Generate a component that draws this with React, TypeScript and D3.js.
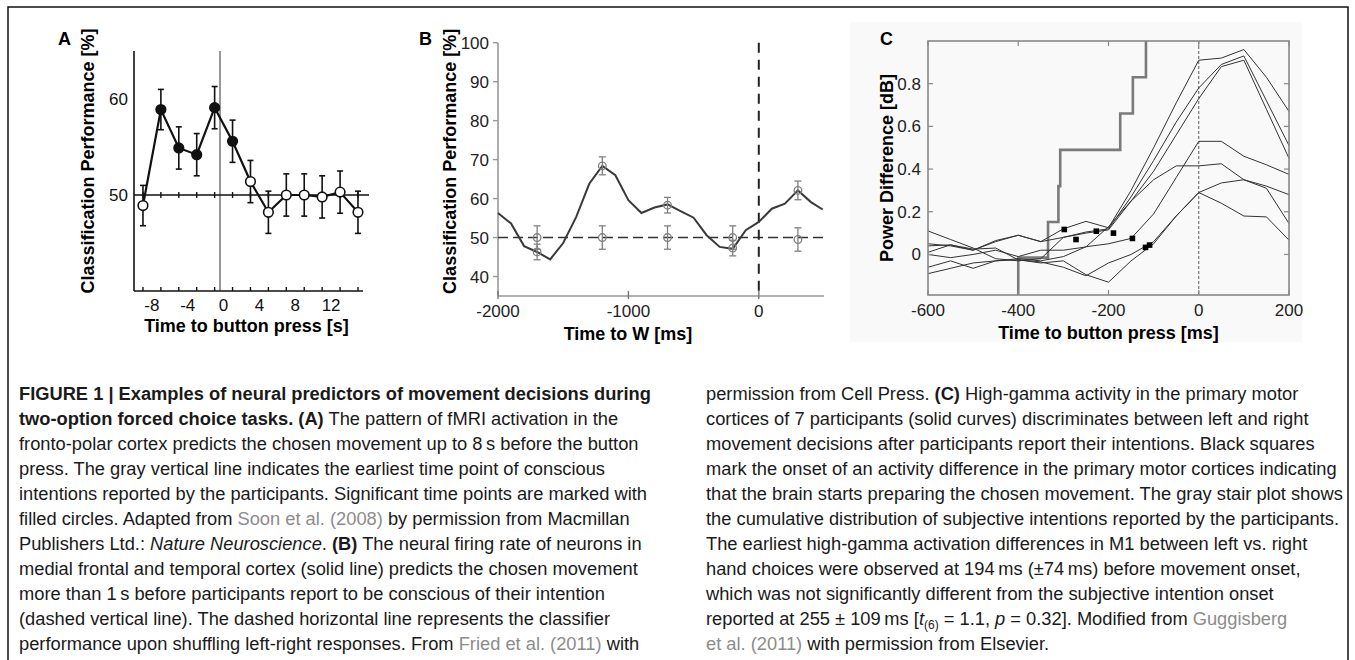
import React from "react";
import * as d3 from "d3";

const FONT = "'Liberation Sans', Arial, Helvetica, sans-serif";

// ---------------- Panel A (fMRI, Soon et al.) ----------------
const aTimes = [-9, -7, -5, -3, -1, 1, 3, 5, 7, 9, 11, 13, 15];
const aValues = [48.9, 58.9, 54.9, 54.2, 59.1, 55.6, 51.4, 48.2, 50.0, 50.0, 49.8, 50.3, 48.2];
const aErrors = [2.1, 2.1, 2.2, 2.2, 2.2, 2.2, 2.2, 2.2, 2.2, 2.2, 2.2, 2.2, 2.2];
const aFilled = [false, true, true, true, true, true, false, false, false, false, false, false, false];
const aXTickLabels = [-8, -4, 0, 4, 8, 12];
const aYTickLabels = [50, 60];
const aIntention = -0.4;
const aChance = 50;

// ---------------- Panel B (single neurons, Fried et al.) ----------------
const bTimes = [-2000, -1900, -1800, -1700, -1600, -1500, -1400, -1300, -1200, -1100, -1000, -900, -800, -700, -600, -500, -400, -300, -200, -100, 0, 100, 200, 300, 400, 490];
const bValues = [56.3, 53.6, 47.8, 46.3, 44.4, 48.6, 55.3, 63.8, 68.4, 66.0, 59.6, 56.3, 57.7, 58.5, 56.8, 55.1, 50.6, 47.6, 47.1, 51.9, 54.0, 57.4, 58.7, 62.1, 59.1, 57.2];
const bMarkerTimes = [-1700, -1200, -700, -200, 300];
const bMarkerValues = [46.3, 68.4, 58.3, 47.3, 62.1];
const bMarkerErrors = [2.0, 2.3, 2.0, 2.0, 2.4];
const bShuffleValues = [50, 50, 50, 50, 49.5];
const bShuffleErrors = [3, 3, 3, 3, 3];
const bYTicks = [40, 50, 60, 70, 80, 90, 100];
const bXTicks = [-2000, -1000, 0];
const bChance = 50;

// ---------------- Panel C (high-gamma, Guggisberg et al.) ----------------
const cTimes = [-600, -550, -500, -450, -400, -350, -300, -250, -200, -150, -100, -50, 0, 50, 100, 150, 200];
const cSubject1 = [0.05, 0.04, 0.02, 0.06, 0.09, 0.06, 0.12, 0.155, 0.125, 0.30, 0.50, 0.71, 0.91, 0.92, 0.96, 0.83, 0.67];
const cSubject2 = [0.11, 0.07, 0.03, -0.02, -0.03, -0.02, 0.08, 0.105, 0.12, 0.27, 0.44, 0.62, 0.78, 0.89, 0.93, 0.72, 0.51];
const cSubject3 = [0.01, 0.045, 0.02, 0.065, 0.09, 0.06, 0.08, 0.10, 0.115, 0.25, 0.39, 0.56, 0.73, 0.88, 0.91, 0.68, 0.45];
const cSubject4 = [-0.09, -0.065, -0.04, -0.03, -0.02, -0.03, -0.01, 0.036, 0.05, 0.075, 0.19, 0.36, 0.53, 0.53, 0.46, 0.42, 0.375];
const cSubject5 = [0.0, -0.015, 0.0, 0.02, -0.01, 0.02, 0.02, 0.035, 0.13, 0.25, 0.35, 0.415, 0.415, 0.425, 0.35, 0.32, 0.28];
const cSubject6 = [0.04, 0.045, 0.025, 0.03, -0.025, -0.035, -0.06, -0.1, -0.04, 0.0, 0.06, 0.18, 0.29, 0.335, 0.35, 0.31, 0.145];
const cSubject7 = [-0.06, -0.03, -0.065, -0.03, -0.025, -0.04, -0.03, -0.095, -0.13, -0.03, 0.05, 0.18, 0.29, 0.24, 0.18, 0.176, 0.067];
const cSubjects = [cSubject1, cSubject2, cSubject3, cSubject4, cSubject5, cSubject6, cSubject7];
const cOnsetTimes = [-298, -272, -227, -189, -147, -118, -109];
const cOnsetValues = [0.117, 0.07, 0.109, 0.10, 0.075, 0.033, 0.044];
const cStairTimes = [-400, -334, -311, -307, -174, -146, -117];
const cStairValues = [-0.015, 0.152, 0.32, 0.49, 0.66, 0.83, 1.0];
const cXTicks = [-600, -400, -200, 0, 200];
const cYTicks = [0, 0.2, 0.4, 0.6, 0.8];

// ---------------- Caption ----------------
type Seg = [string, string];
const captionLeft: Seg[][] = [
  [["FIGURE 1 | Examples of neural predictors of movement decisions during", "b"]],
  [["two-option forced choice tasks. (A)", "b"], [" The pattern of fMRI activation in the", ""]],
  [["fronto-polar cortex predicts the chosen movement up to 8\u2009s before the button", ""]],
  [["press. The gray vertical line indicates the earliest time point of conscious", ""]],
  [["intentions reported by the participants. Significant time points are marked with", ""]],
  [["filled circles. Adapted from ", ""], ["Soon et al. (2008)", "g"], [" by permission from Macmillan", ""]],
  [["Publishers Ltd.: ", ""], ["Nature Neuroscience", "i"], [". ", ""], ["(B)", "b"], [" The neural firing rate of neurons in", ""]],
  [["medial frontal and temporal cortex (solid line) predicts the chosen movement", ""]],
  [["more than 1\u2009s before participants report to be conscious of their intention", ""]],
  [["(dashed vertical line). The dashed horizontal line represents the classifier", ""]],
  [["performance upon shuffling left-right responses. From ", ""], ["Fried et al. (2011)", "g"], [" with", ""]],
];
const captionRight: Seg[][] = [
  [["permission from Cell Press. ", ""], ["(C)", "b"], [" High-gamma activity in the primary motor", ""]],
  [["cortices of 7 participants (solid curves) discriminates between left and right", ""]],
  [["movement decisions after participants report their intentions. Black squares", ""]],
  [["mark the onset of an activity difference in the primary motor cortices indicating", ""]],
  [["that the brain starts preparing the chosen movement. The gray stair plot shows", ""]],
  [["the cumulative distribution of subjective intentions reported by the participants.", ""]],
  [["The earliest high-gamma activation differences in M1 between left vs. right", ""]],
  [["hand choices were observed at 194\u2009ms (\u00b174\u2009ms) before movement onset,", ""]],
  [["which was not significantly different from the subjective intention onset", ""]],
  [["reported at 255 \u00b1 109\u2009ms [", ""], ["t", "i"], ["(6)", "sub"], [" = 1.1, ", "up"], ["p", "i"], [" = 0.32]. Modified from ", ""], ["Guggisberg", "g"]],
  [["et al. (2011)", "g"], [" with permission from Elsevier.", ""]],
];

function CaptionLine({ segs, x, y }: { segs: Seg[]; x: number; y: number }) {
  return (
    <text x={x} y={y} fontFamily={FONT} fontSize={18.3} fill="#1a1a1a">
      {segs.map(([t, s], i) => {
        const props: any = {};
        if (s === "b") props.fontWeight = "bold";
        if (s === "g") props.fill = "#8c8c8c";
        if (s === "i") props.fontStyle = "italic";
        if (s === "sub") { props.fontSize = 12; props.dy = 4; }
        if (s === "up") props.dy = -4;
        return <tspan key={i} {...props}>{t}</tspan>;
      })}
    </text>
  );
}

function PanelA() {
  const x = d3.scaleLinear().domain([-10, 15.56]).range([134, 363]);
  const y = d3.scaleLinear().domain([40, 65]).range([291, 51]);
  const pts = aTimes.map((t, i) => ({ t, v: aValues[i], e: aErrors[i], f: aFilled[i] }));
  const line = d3.line<any>().x((d) => x(d.t)).y((d) => y(d.v));
  const [x0, x1] = x.range();
  const [yb, yt] = y.range();
  return (
    <g fontFamily={FONT}>
      <text x={58} y={45} fontSize={18} fontWeight="bold">A</text>
      <text transform={`translate(94,${(yb + yt) / 2 - 10}) rotate(-90)`} textAnchor="middle" fontSize={18} fontWeight="bold">
        Classification Performance [%]
      </text>
      <line x1={x(aIntention)} x2={x(aIntention)} y1={yt} y2={yb} stroke="#999" strokeWidth={2} />
      <line x1={x0} x2={x0} y1={yt} y2={yb} stroke="#111" strokeWidth={1.6} />
      <line x1={x0} x2={x1} y1={yb} y2={yb} stroke="#111" strokeWidth={1.6} />
      <line x1={x0} x2={x1 + 6} y1={y(aChance)} y2={y(aChance)} stroke="#111" strokeWidth={1.6} />
      {aTimes.map((t) => (
        <g key={t}>
          <line x1={x(t)} x2={x(t)} y1={yb} y2={yb - 4} stroke="#111" strokeWidth={1.4} />
          <line x1={x(t)} x2={x(t)} y1={y(aChance) - 3} y2={y(aChance) + 3} stroke="#111" strokeWidth={1.4} />
        </g>
      ))}
      {aYTickLabels.map((v) => (
        <text key={v} x={x0 - 6} y={y(v) + 6} textAnchor="end" fontSize={17} fill="#111">{v}</text>
      ))}
      {aXTickLabels.map((t) => (
        <text key={t} x={x(t)} y={yb + 20} textAnchor="middle" fontSize={17} fill="#111">{t}</text>
      ))}
      <text x={(x0 + x1) / 2 - 2} y={yb + 41} textAnchor="middle" fontSize={18} fontWeight="bold">Time to button press [s]</text>
      {pts.map((p, i) => (
        <g key={i} stroke="#111" strokeWidth={1.6}>
          <line x1={x(p.t)} x2={x(p.t)} y1={y(p.v - p.e)} y2={y(p.v + p.e)} />
          <line x1={x(p.t) - 3} x2={x(p.t) + 3} y1={y(p.v - p.e)} y2={y(p.v - p.e)} />
          <line x1={x(p.t) - 3} x2={x(p.t) + 3} y1={y(p.v + p.e)} y2={y(p.v + p.e)} />
        </g>
      ))}
      <path d={line(pts) || ""} fill="none" stroke="#111" strokeWidth={2.2} />
      {pts.map((p, i) => (
        <circle key={i} cx={x(p.t)} cy={y(p.v)} r={4.8} fill={p.f ? "#111" : "#fff"} stroke="#111" strokeWidth={1.6} />
      ))}
    </g>
  );
}

function PanelB() {
  const x = d3.scaleLinear().domain([-2000, 500]).range([498, 824]);
  const y = d3.scaleLinear().domain([35, 100]).range([296, 42.7]);
  const [x0, x1] = x.range();
  const [yb, yt] = y.range();
  const line = d3.line<number>().x((_, i) => x(bTimes[i])).y((v) => y(v));
  return (
    <g fontFamily={FONT}>
      <text x={419} y={45} fontSize={18} fontWeight="bold">B</text>
      <text transform={`translate(456,${(yb + yt) / 2 - 8}) rotate(-90)`} textAnchor="middle" fontSize={18} fontWeight="bold">
        Classification Performance [%]
      </text>
      <line x1={x0} x2={x0} y1={yt} y2={yb} stroke="#999" strokeWidth={1.6} />
      <line x1={x0} x2={x1} y1={yb} y2={yb} stroke="#999" strokeWidth={1.6} />
      {bYTicks.map((v) => (
        <g key={v}>
          <line x1={x0 - 5} x2={x0} y1={y(v)} y2={y(v)} stroke="#999" strokeWidth={1.4} />
          <text x={x0 - 9} y={y(v) + 6} textAnchor="end" fontSize={17} fill="#222">{v}</text>
        </g>
      ))}
      {bXTicks.map((t) => (
        <g key={t}>
          <line x1={x(t)} x2={x(t)} y1={yb - 5} y2={yb + 3} stroke="#777" strokeWidth={1.4} />
          <text x={x(t)} y={yb + 21} textAnchor="middle" fontSize={17} fill="#222">{t}</text>
        </g>
      ))}
      <text x={628} y={yb + 44} textAnchor="middle" fontSize={18} fontWeight="bold">Time to W [ms]</text>
      <line x1={x0} x2={x1} y1={y(bChance)} y2={y(bChance)} stroke="#333" strokeWidth={1.5} strokeDasharray="10,5" />
      <line x1={x(0)} x2={x(0)} y1={yt} y2={yb} stroke="#222" strokeWidth={2} strokeDasharray="10,7" />
      <path d={line(bValues) || ""} fill="none" stroke="#3a3a3a" strokeWidth={2} />
      {bMarkerTimes.map((t, i) => (
        <g key={i} stroke="#808080" strokeWidth={1.3} fill="none">
          {[[bMarkerValues[i], bMarkerErrors[i]], [bShuffleValues[i], bShuffleErrors[i]]].map(([v, e], j) => (
            <g key={j}>
              <line x1={x(t)} x2={x(t)} y1={y(v - e)} y2={y(v + e)} />
              <line x1={x(t) - 3.5} x2={x(t) + 3.5} y1={y(v - e)} y2={y(v - e)} />
              <line x1={x(t) - 3.5} x2={x(t) + 3.5} y1={y(v + e)} y2={y(v + e)} />
              <circle cx={x(t)} cy={y(v)} r={3.8} />
            </g>
          ))}
        </g>
      ))}
    </g>
  );
}

function PanelC() {
  const x = d3.scaleLinear().domain([-600, 200]).range([928, 1289]);
  const y = d3.scaleLinear().domain([-0.19, 1.0]).range([295, 41]);
  const [x0, x1] = x.range();
  const [yb, yt] = y.range();
  const line = d3.line<number>().x((_, i) => x(cTimes[i])).y((v) => y(v));
  const stairPts: [number, number][] = [[cStairTimes[0], -0.19], ...cStairTimes.map((t, i) => [t, cStairValues[i]] as [number, number])];
  const stair = d3.line<[number, number]>().x((d) => x(d[0])).y((d) => y(d[1])).curve(d3.curveStepAfter);
  return (
    <g fontFamily={FONT}>
      <rect x={850} y={22} width={452} height={320} fill="#f9f9f9" />
      <text x={880} y={45} fontSize={18} fontWeight="bold">C</text>
      <text transform={`translate(893,${(yb + yt) / 2}) rotate(-90)`} textAnchor="middle" fontSize={18} fontWeight="bold">
        Power Difference [dB]
      </text>
      <line x1={x(0)} x2={x(0)} y1={yt} y2={yb} stroke="#333" strokeWidth={0.8} strokeDasharray="3,2" />
      <path d={stair(stairPts) || ""} fill="none" stroke="#7a7a7a" strokeWidth={2.6} />
      {cSubjects.map((s, i) => (
        <path key={i} d={line(s) || ""} fill="none" stroke="#333" strokeWidth={1} />
      ))}
      {cOnsetTimes.map((t, i) => (
        <rect key={i} x={x(t) - 2.8} y={y(cOnsetValues[i]) - 2.8} width={5.6} height={5.6} fill="#000" />
      ))}
      <rect x={x0} y={yt} width={x1 - x0} height={yb - yt} fill="none" stroke="#888" strokeWidth={1.6} />
      {cXTicks.map((t) => (
        <g key={t}>
          <line x1={x(t)} x2={x(t)} y1={yb} y2={yb - 5} stroke="#888" strokeWidth={1.2} />
          <line x1={x(t)} x2={x(t)} y1={yt} y2={yt + 5} stroke="#888" strokeWidth={1.2} />
          <text x={x(t)} y={yb + 21} textAnchor="middle" fontSize={17} fill="#222">{t}</text>
        </g>
      ))}
      {cYTicks.map((v) => (
        <g key={v}>
          <line x1={x0} x2={x0 + 5} y1={y(v)} y2={y(v)} stroke="#888" strokeWidth={1.2} />
          <line x1={x1} x2={x1 - 5} y1={y(v)} y2={y(v)} stroke="#888" strokeWidth={1.2} />
          <text x={x0 - 7} y={y(v) + 6} textAnchor="end" fontSize={17} fill="#222">{v === 0 ? "0" : d3.format(".1f")(v)}</text>
        </g>
      ))}
      <text x={(x0 + x1) / 2} y={yb + 44} textAnchor="middle" fontSize={18} fontWeight="bold">Time to button press [ms]</text>
    </g>
  );
}

export default function App() {
  return (
    <svg width={1355} height={660} style={{ position: "absolute", left: 0, top: 0, background: "#fff" }}>
      <rect x={0} y={0} width={1355} height={660} fill="#fff" />
      <rect x={8} y={7} width={1340} height={720} fill="none" stroke="#111" strokeWidth={1.5} />
      <PanelA />
      <PanelB />
      <PanelC />
      {captionLeft.map((segs, i) => (
        <CaptionLine key={"l" + i} segs={segs} x={19} y={400 + i * 25} />
      ))}
      {captionRight.map((segs, i) => (
        <CaptionLine key={"r" + i} segs={segs} x={706} y={400 + i * 25} />
      ))}
    </svg>
  );
}
